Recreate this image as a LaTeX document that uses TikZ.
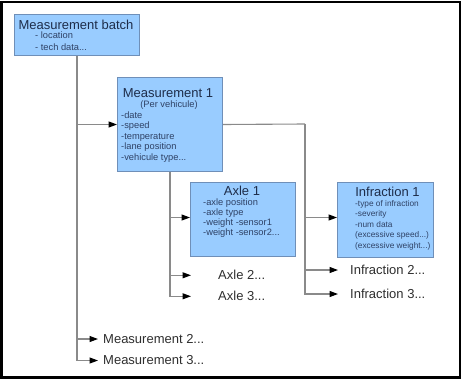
\documentclass[tikz,border=0pt]{standalone}
\usepackage{fontspec}
\setmainfont{Liberation Sans}
\usetikzlibrary{arrows.meta}
\definecolor{boxfill}{HTML}{99CCFF}
\definecolor{boxline}{HTML}{6F8FB8}
\definecolor{titlecol}{HTML}{1E2D4A}
\definecolor{bodycol}{HTML}{2F4266}
\definecolor{conncol}{HTML}{8A8A8A}
\definecolor{labelcol}{HTML}{2E2E2E}
\newcommand\mydots{...}
\begin{document}
\begin{tikzpicture}[x=1pt,y=-1pt,
  box/.style={draw=boxline, fill=boxfill, line width=1pt, inner sep=0pt, anchor=north west},
  ttl/.style={font=\fontsize{13}{15}\selectfont, text=titlecol, inner sep=0pt, anchor=base},
  bdy/.style={font=\fontsize{9.3}{10.5}\selectfont, text=bodycol, inner sep=0pt, anchor=base west},
  bdys/.style={font=\fontsize{8.3}{10}\selectfont, text=bodycol, inner sep=0pt, anchor=base west},
  lbl/.style={font=\fontsize{13}{15}\selectfont, text=labelcol, inner sep=0pt, anchor=west},
  conn/.style={draw=conncol, line width=1.1pt},
  arr/.style={conn, -{Triangle[length=8.5pt,width=6pt,color=black]}}]
\useasboundingbox (0,0) rectangle (461,380);
\draw[line width=2.2pt] (1.5,2) rectangle (459.8,377.5);

% Measurement batch
\node[box, minimum width=125, minimum height=41] (batch) at (14,14) {};
\node[ttl] (batchT) at (76,29) {Measurement batch};
\node[bdy] (batchL1) at (35,38.3) {- location};
\node[bdy] (batchL2) at (35,50.3) {- tech data...};

% Measurement 1
\node[box, minimum width=105, minimum height=94] (m1) at (117,77) {};
\node[ttl] (m1T) at (168,97) {Measurement 1};
\node[bdy, anchor=base] (m1S) at (169,107.5) {(Per vehicule)};
\foreach \t [count=\i from 0] in {-date,-speed,-temperature,-lane position,-vehicule type\mydots}
  \node[bdy] (m1L\i) at (121,118+\i*10.5) {\t};

% Axle 1
\node[box, minimum width=105, minimum height=74] (ax1) at (190,182) {};
\node[ttl] (ax1T) at (242,195) {Axle 1};
\foreach \t [count=\i from 0] in {-axle position,-axle type,-weight -sensor1,-weight -sensor2\mydots}
  \node[bdy] (ax1L\i) at (203,205.3+\i*10) {\t};

% Infraction 1
\node[box, minimum width=96, minimum height=75] (inf1) at (337,182) {};
\node[ttl] (inf1T) at (387.5,196) {Infraction 1};
\foreach \t [count=\i from 0] in {-type of infraction,-severity,-num data,(excessive speed\mydots),(excessive weight\mydots)}
  \node[bdys] (inf1L\i) at (355,206.3+\i*10.45) {\t};

% plain labels
\node[lbl] (ax2) at (218,275.3) {Axle 2...};
\node[lbl] (ax3) at (218,296.3) {Axle 3...};
\node[lbl] (inf2) at (350,270) {Infraction 2...};
\node[lbl] (inf3) at (350,294) {Infraction 3...};
\node[lbl] (m2) at (103,339) {Measurement 2...};
\node[lbl] (m3) at (103,360.5) {Measurement 3...};

% connectors
\draw[arr] (batch.south) |- (m1.west);
\draw[arr, shorten >=5pt] (batch.south) |- (m2.west);
\draw[arr, shorten >=5pt] (batch.south) |- (m3.west);

\draw[arr] (m1.south) |- ([yshift=2pt]ax1.west);
\draw[arr, shorten >=27pt] (m1.south) |- (ax2.west);
\draw[arr, shorten >=27pt] (m1.south) |- (ax3.west);

\coordinate (ij) at (305,124);
\draw[conn] (m1.east) -- (ij);
\draw[arr] (ij) |- ([yshift=2.5pt]inf1.west);
\draw[arr, shorten >=12pt] (ij) |- (inf2.west);
\draw[arr, shorten >=12pt] (ij) |- (inf3.west);
\end{tikzpicture}
\end{document}
